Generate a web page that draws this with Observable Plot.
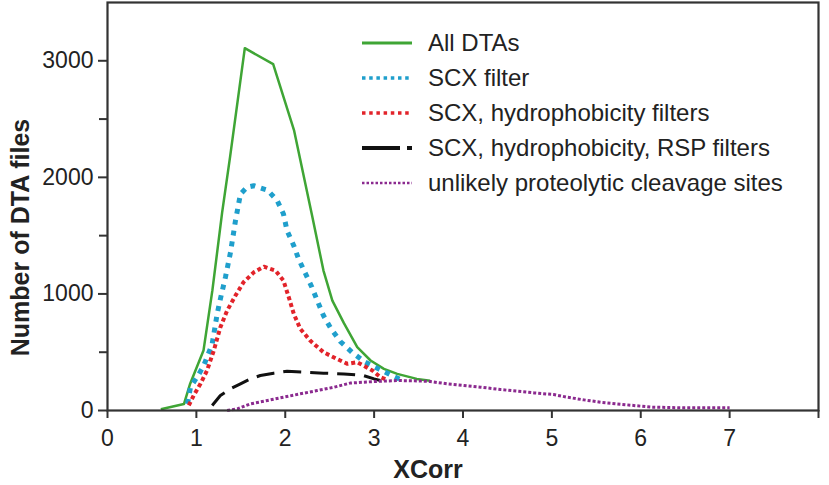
<!DOCTYPE html>
<html><head><meta charset="utf-8">
<script src="https://cdn.jsdelivr.net/npm/d3@7"></script>
<script src="https://cdn.jsdelivr.net/npm/@observablehq/plot@0.6"></script>
<style>
body{margin:0;background:#fff;}
#wrap{position:relative;width:829px;height:485px;font-family:"Liberation Sans",Arial,sans-serif;}
#legend{position:absolute;left:362px;top:25px;}
.row{height:35px;display:flex;align-items:center;}
.row svg{width:50px;height:12px;margin-right:16px;flex:none;}
.row span{font-size:24px;color:#222;white-space:nowrap;}
</style></head><body><div id="wrap"></div>
<script>
// ---- data ----
const seriesNames = ["All DTAs", "SCX filter", "SCX, hydrophobicity filters", "SCX, hydrophobicity, RSP filters", "unlikely proteolytic cleavage sites"];

const allX = [0.6, 0.86, 0.93, 1.08, 1.18, 1.29, 1.38, 1.545, 1.864, 2.1, 2.3, 2.43, 2.53, 2.66, 2.81, 2.96, 3.11, 3.26, 3.48, 3.63];
const allY = [10, 55, 230, 514, 1030, 1700, 2180, 3108, 2971, 2400, 1680, 1200, 943, 750, 543, 429, 357, 314, 271, 255];

const scxX = [0.9, 0.934, 1.03, 1.083, 1.178, 1.234, 1.27, 1.327, 1.384, 1.44, 1.496, 1.57, 1.646, 1.80, 1.91, 1.98, 2.02, 2.096, 2.15, 2.23, 2.30, 2.36, 2.43, 2.51, 2.62, 2.75, 2.90, 3.05, 3.20, 3.30];
const scxY = [57, 200, 314, 386, 571, 829, 957, 1143, 1357, 1628, 1857, 1915, 1928, 1891, 1800, 1686, 1543, 1414, 1300, 1171, 1057, 943, 814, 707, 592, 500, 414, 357, 300, 265];

const hydX = [0.915, 0.97, 1.046, 1.12, 1.196, 1.27, 1.346, 1.44, 1.53, 1.646, 1.76, 1.89, 1.98, 2.04, 2.096, 2.17, 2.28, 2.43, 2.58, 2.70, 2.81, 2.88, 2.98, 3.07, 3.15];
const hydY = [43, 129, 229, 343, 514, 714, 857, 986, 1100, 1185, 1234, 1200, 1114, 971, 829, 700, 600, 500, 443, 400, 414, 386, 343, 286, 262];

const rspX = [1.178, 1.27, 1.384, 1.496, 1.61, 1.72, 1.87, 2.02, 2.21, 2.43, 2.66, 2.88, 3.0, 3.07];
const rspY = [43, 129, 186, 229, 271, 300, 320, 337, 329, 320, 314, 300, 271, 258];

const unlX = [1.346, 1.46, 1.61, 1.80, 1.98, 2.17, 2.36, 2.55, 2.73, 2.88, 3.07, 3.26, 3.45, 3.63, 3.82, 4.01, 4.2, 4.42, 4.8, 5.02, 5.17, 5.36, 5.55, 5.73, 5.92, 6.11, 6.48, 7.0];
const unlY = [0, 14, 57, 86, 114, 143, 171, 200, 235, 243, 251, 257, 255, 249, 229, 214, 200, 180, 151, 137, 114, 91, 71, 57, 43, 29, 23, 23];

const xTicks = [0, 1, 2, 3, 4, 5, 6, 7, 8];
const xTickLabels = ["0", "1", "2", "3", "4", "5", "6", "7", ""];
const yMajorTicks = [0, 1000, 2000, 3000];
const yMinorTicks = [500, 1500, 2500];
const xTitle = "XCorr";
const yTitle = "Number of DTA files";

// ---- styles (kept apart from the data) ----
const lineStyles = [
  {stroke: "#3fa535", strokeWidth: 2.5, strokeDasharray: null},
  {stroke: "#1f9fcc", strokeWidth: 5, strokeDasharray: "5,6"},
  {stroke: "#e2232a", strokeWidth: 4, strokeDasharray: "4,3"},
  {stroke: "#111111", strokeWidth: 3, strokeDasharray: "18,9"},
  {stroke: "#8b2a8f", strokeWidth: 3, strokeDasharray: "3,2"}
];
const legendStyles = [
  {stroke: "#3fa535", width: 3, dash: null},
  {stroke: "#1f9fcc", width: 3.5, dash: "3.5,3.7"},
  {stroke: "#e2232a", width: 3.5, dash: "3.5,3.7"},
  {stroke: "#111111", width: 4, dash: "38,7,5,20"},
  {stroke: "#8b2a8f", width: 2.5, dash: "2.5,2"}
];

const seriesXY = [[allX, allY], [scxX, scxY], [hydX, hydY], [rspX, rspY], [unlX, unlY]];

const lineMarks = seriesXY.map(([xs, ys], i) =>
  Plot.line(d3.zip(xs, ys), {
    x: d => d[0], y: d => d[1],
    stroke: lineStyles[i].stroke,
    strokeWidth: lineStyles[i].strokeWidth,
    strokeDasharray: lineStyles[i].strokeDasharray,
    strokeLinecap: "butt",
    strokeLinejoin: "round"
  })
);

const chart = Plot.plot({
  width: 829,
  height: 485,
  marginLeft: 107,
  marginRight: 11,
  marginTop: 2,
  marginBottom: 75,
  style: {fontFamily: "'Liberation Sans', Arial, sans-serif", color: "#222", background: "#fff"},
  x: {domain: [0, 8]},
  y: {domain: [0, 3500]},
  marks: [
    ...lineMarks,
    Plot.frame({stroke: "#333", strokeWidth: 2.2}),
    Plot.axisX({ticks: xTicks, tickFormat: d => xTickLabels[xTicks.indexOf(d)], tickSize: 8, tickPadding: 11, fontSize: 23, stroke: "#333", strokeWidth: 2, fill: "#222", label: null}),
    Plot.axisY({ticks: yMajorTicks, tickFormat: d => String(d), tickSize: 9, tickPadding: 5, fontSize: 23, stroke: "#333", strokeWidth: 2, fill: "#222", label: null}),
    Plot.axisY({ticks: yMinorTicks, tickFormat: () => "", tickSize: 8, stroke: "#333", strokeWidth: 2, label: null}),
    Plot.text([xTitle], {frameAnchor: "bottom", text: d => d, textAnchor: "middle", dx: -35, dy: 59, lineAnchor: "middle", fontSize: 25, fontWeight: "bold", fill: "#222"}),
    Plot.text([yTitle], {frameAnchor: "left", text: d => d, textAnchor: "middle", lineAnchor: "middle", rotate: -90, dx: -87, dy: 31, fontSize: 25, fontWeight: "bold", fill: "#222"})
  ]
});

const wrap = document.getElementById("wrap");
wrap.appendChild(chart);

// ---- legend (HTML overlay) ----
const legend = document.createElement("div");
legend.id = "legend";
seriesNames.forEach((name, i) => {
  const row = document.createElement("div");
  row.className = "row";
  const st = legendStyles[i];
  row.innerHTML = `<svg viewBox="0 0 50 12"><line x1="0" y1="6" x2="50" y2="6" stroke="${st.stroke}" stroke-width="${st.width}" ${st.dash ? `stroke-dasharray="${st.dash}"` : ""}/></svg><span>${name}</span>`;
  legend.appendChild(row);
});
wrap.appendChild(legend);
</script></body></html>
